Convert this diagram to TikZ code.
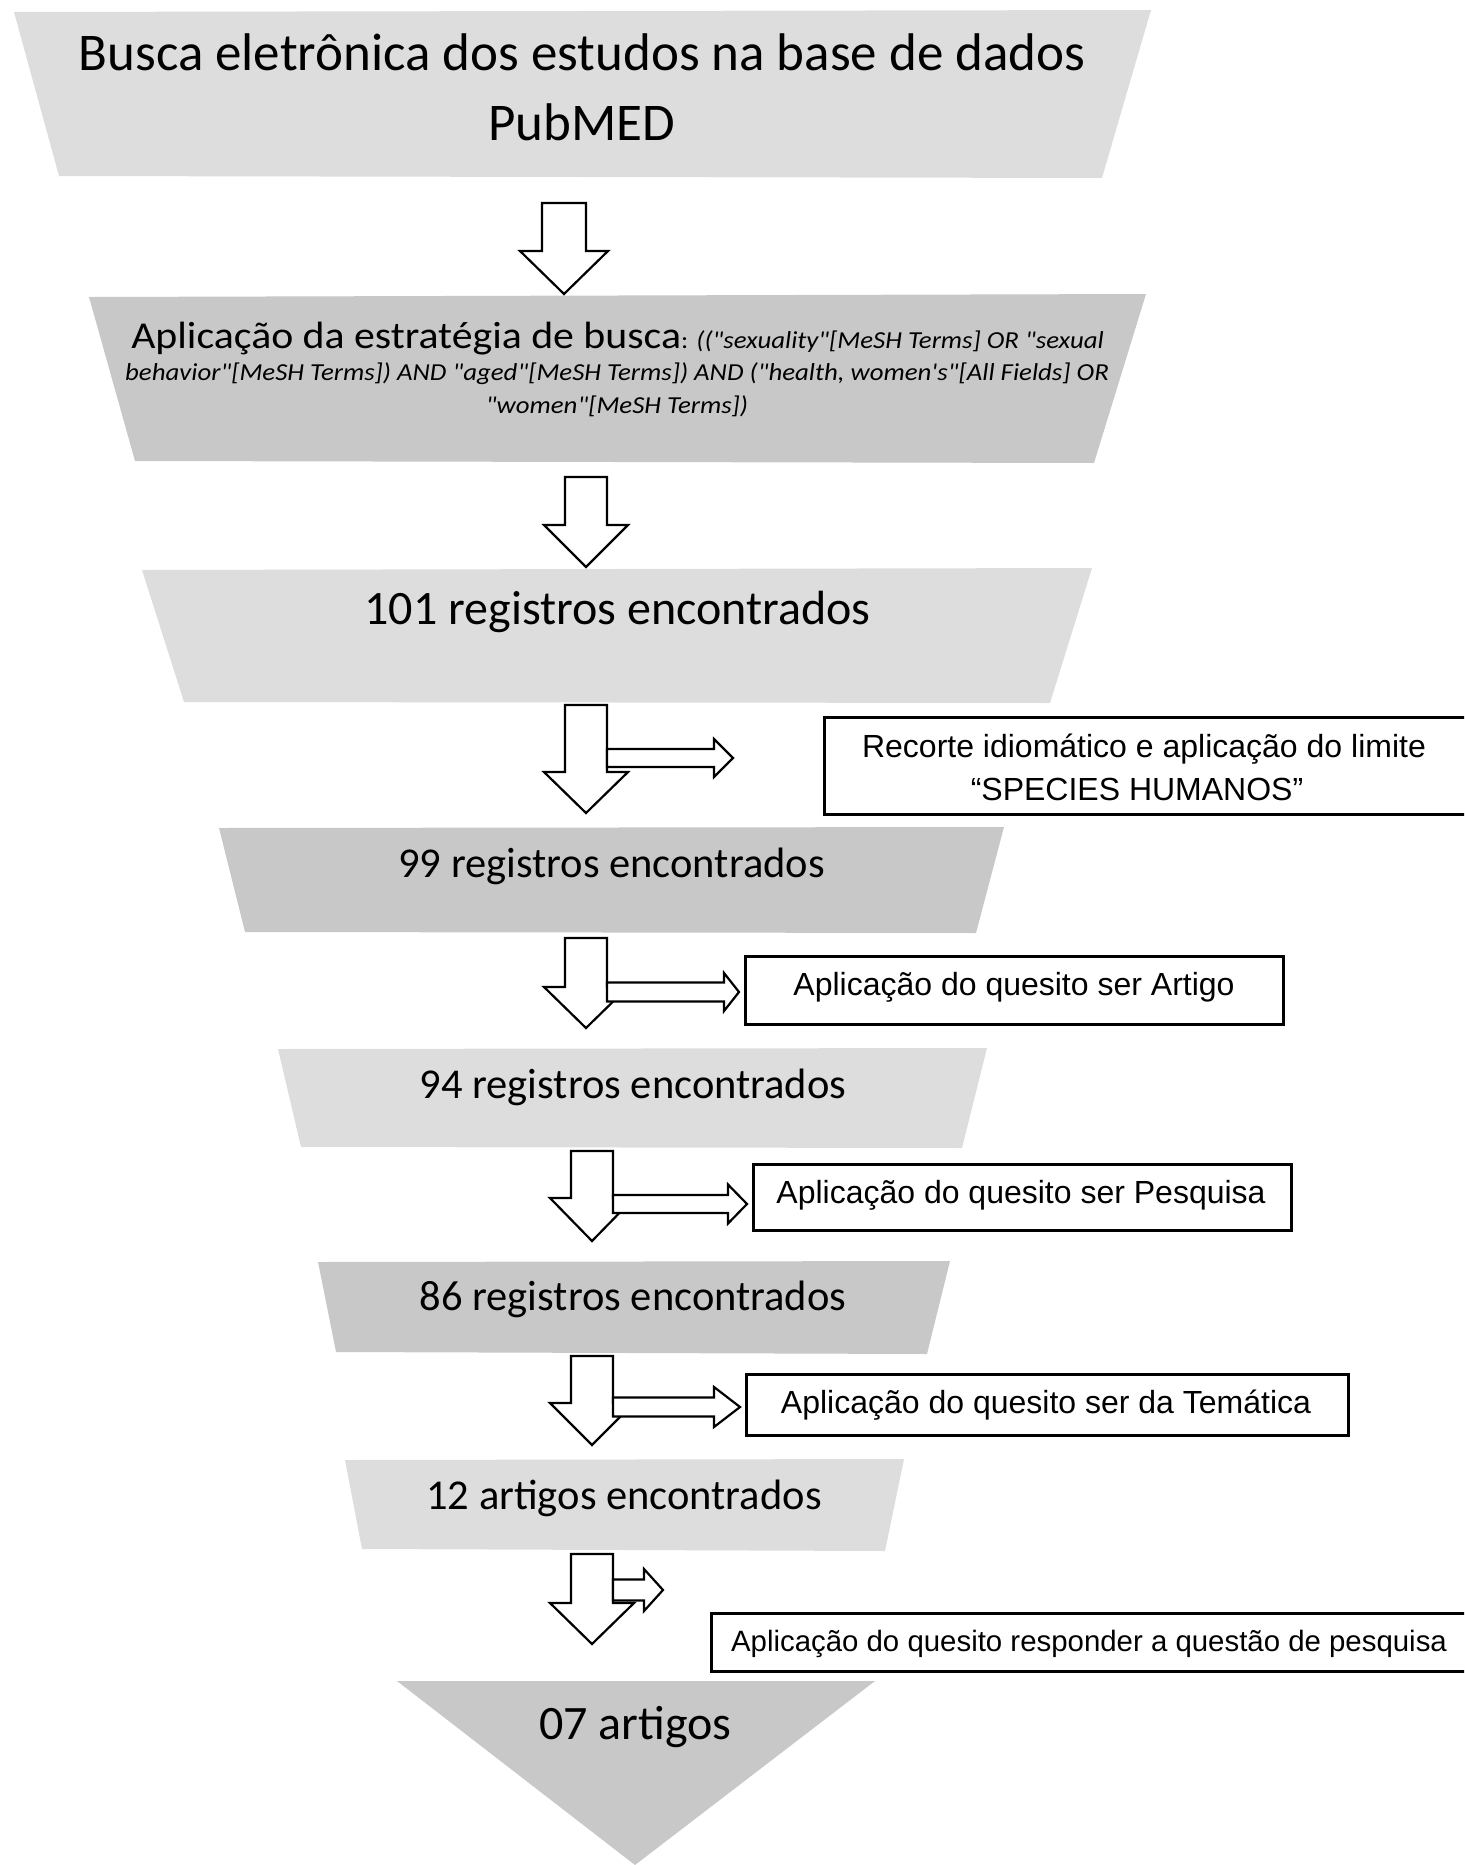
\documentclass[tikz,border=0pt]{standalone}
\usepackage{fontspec}
\newfontfamily\calfont{Carlito}
\newfontfamily\calwide[FakeStretch=1.1]{Carlito}
\newfontfamily\arialfont{Liberation Sans}
\definecolor{lgray}{RGB}{221,221,221}
\definecolor{dgray}{RGB}{200,200,200}
\tikzset{
  lightshape/.style={fill=lgray},
  darkshape/.style={fill=dgray},
  blockarrow/.style={draw=black, fill=white, line width=2.2pt, line join=miter},
  sidebox/.style={draw=black, fill=white, line width=2.6pt, inner sep=0pt, anchor=north west},
  txt/.style={inner sep=0pt, anchor=base},
  bigtxt/.style={txt, font=\calfont\fontsize{53}{60}\selectfont},
  midtxt/.style={txt, font=\calfont\fontsize{48}{56}\selectfont},
  stdtxt/.style={txt, font=\calfont\fontsize{42.5}{50}\selectfont},
  boxtxt/.style={txt, font=\arialfont\fontsize{32}{38}\selectfont},
  smallboxtxt/.style={txt, font=\arialfont\fontsize{29.4}{35}\selectfont},
  qtxt/.style={txt, font=\calwide\itshape\fontsize{24.4}{30}\selectfont},
  pics/downarrow/.style n args={4}{code={
    \draw[blockarrow] (-#3,0) -- (#3,0) -- (#3,#1) -- (#4,#1) -- (0,#2)
      -- (-#4,#1) -- (-#3,#1) -- cycle;
  }},
  pics/sidearrow/.style n args={4}{code={
    \draw[blockarrow] (0,-#3) -- (#1,-#3) -- (#1,-#4) -- (#2,0) -- (#1,#4)
      -- (#1,#3) -- (0,#3) -- cycle;
  }},
}
\begin{document}
\begin{tikzpicture}[x=1pt,y=-1pt]
\useasboundingbox (0,0) rectangle (1464,1865);
\clip (0,0) rectangle (1464,1865);

% funnel shapes
\fill[lightshape] (14,12) -- (1151,10) -- (1102,178) -- (59,176) -- cycle;
\fill[darkshape]  (89,297) -- (1146,294) -- (1094,463) -- (135,461) -- cycle;
\fill[lightshape] (142,570) -- (1092,568) -- (1050,703) -- (184,702) -- cycle;
\fill[darkshape]  (219,828) -- (1004,827) -- (976,933) -- (245,932) -- cycle;
\fill[lightshape] (278,1049) -- (987,1048) -- (962,1148) -- (301,1147) -- cycle;
\fill[darkshape]  (318,1262) -- (950,1261) -- (927,1354) -- (336,1352) -- cycle;
\fill[lightshape] (345,1460) -- (904,1459) -- (885,1551) -- (362,1549) -- cycle;
\fill[darkshape]  (397,1681) -- (875,1681) -- (635,1865) -- cycle;

% texts in funnel shapes
\node[bigtxt] (t1a) at (582,71) {Busca eletrônica dos estudos na base de dados};
\node[bigtxt] (t1b) at (582,140) {PubMED};
\node[txt] (t2a) at (617.5,348) {{\calwide\fontsize{38}{46}\selectfont Aplicação da estratégia de busca}{\calwide\fontsize{24.4}{30}\selectfont: \itshape (("sexuality"[MeSH Terms] OR "sexual}};
\node[qtxt] (t2b) at (617,380) {behavior"[MeSH Terms]) AND "aged"[MeSH Terms]) AND ("health, women's"[All Fields] OR};
\node[qtxt] (t2c) at (617,413) {"women"[MeSH Terms])};
\node[midtxt] (t3) at (617.5,624) {101 registros encontrados};
\node[stdtxt] (t4) at (611.5,877) {99 registros encontrados};
\node[stdtxt] (t5) at (633,1098) {94 registros encontrados};
\node[stdtxt] (t6) at (633,1310) {86 registros encontrados};
\node[stdtxt] (t7) at (624,1509) {12 artigos encontrados};
\node[midtxt] (t8) at (635.5,1739) {07 artigos};

% down arrows and side arrows
\pic (a1) at (564,203) {downarrow={48}{91}{22}{44}};
\pic (a2) at (586,477) {downarrow={48}{90}{21}{42}};
\pic (a3) at (586,705) {downarrow={67}{108}{21}{42}};
\pic (s3) at (607,758) {sidearrow={107}{126}{9}{19}};
\pic (a4) at (586,938) {downarrow={49}{90}{21}{42}};
\pic (s4) at (607,992) {sidearrow={117}{132}{9.5}{19}};
\pic (a5) at (592,1151) {downarrow={47}{90}{21}{42}};
\pic (s5) at (613,1204) {sidearrow={115}{134}{9}{19.5}};
\pic (a6) at (592,1356) {downarrow={47}{89}{21}{42}};
\pic (s6) at (613,1407) {sidearrow={101}{127}{9.5}{20}};
\pic (a7) at (592,1554) {downarrow={49}{90}{21}{42}};
\pic (s7) at (613,1590) {sidearrow={31}{50}{10.5}{21}};

% side boxes
\node[sidebox, minimum width=660pt, minimum height=97pt] (b1) at (823,716) {};
\node[boxtxt] (b1a) at (1144,757) {Recorte idiomático e aplicação do limite};
\node[boxtxt] (b1b) at (1137,800) {“SPECIES HUMANOS”};
\node[sidebox, minimum width=538pt, minimum height=68pt] (b2) at (744,955) {};
\node[boxtxt] (b2t) at (1014,995) {Aplicação do quesito ser Artigo};
\node[sidebox, minimum width=538pt, minimum height=66pt] (b3) at (752,1163) {};
\node[boxtxt] (b3t) at (1021,1203) {Aplicação do quesito ser Pesquisa};
\node[sidebox, minimum width=602pt, minimum height=61pt] (b4) at (745,1373) {};
\node[boxtxt] (b4t) at (1046,1413) {Aplicação do quesito ser da Temática};
\node[sidebox, minimum width=770pt, minimum height=58pt] (b5) at (710,1612) {};
\node[smallboxtxt] (b5t) at (1089,1651) {Aplicação do quesito responder a questão de pesquisa};
\end{tikzpicture}
\end{document}
